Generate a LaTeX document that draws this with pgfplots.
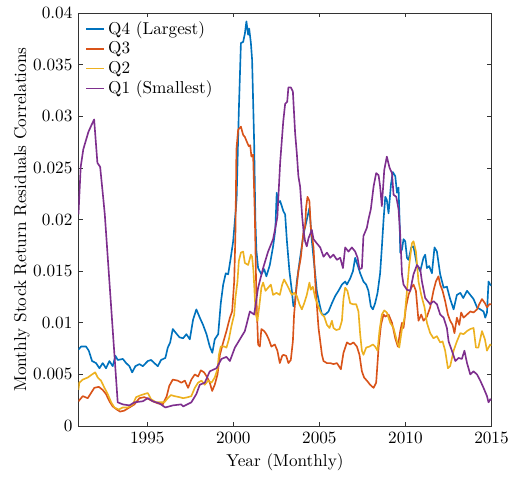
\documentclass[border=0pt]{standalone}
\usepackage{pgfplots}
\pgfplotsset{compat=1.18}
\usetikzlibrary{calc}
\definecolor{mblue}{rgb}{0,0.447,0.741}
\definecolor{morange}{rgb}{0.85,0.325,0.098}
\definecolor{myellow}{rgb}{0.929,0.694,0.125}
\definecolor{mpurple}{rgb}{0.494,0.184,0.556}
\begin{document}
\begin{tikzpicture}
\begin{axis}[
  scale only axis,
  width=240pt, height=240pt,
  xmin=1991, xmax=2015, ymin=0, ymax=0.04,
  xtick={1995,2000,2005,2010,2015},
  ytick={0,0.005,0.01,0.015,0.02,0.025,0.03,0.035,0.04},
  yticklabels={0,0.005,0.01,0.015,0.02,0.025,0.03,0.035,0.04},
  x tick label style={/pgf/number format/1000 sep={}},
  scaled y ticks=false,
  tick align=inside,
  major tick length=2.5pt,
  axis line style={draw=black!80},
  every tick/.style={draw=black!80},
  xlabel={Year (Monthly)},
  ylabel={Monthly Stock Return Residuals Correlations},
  xlabel style={at={(axis description cs:0.5,-0.087)}, anchor=center},
  ylabel style={at={(axis description cs:-0.137,0.5)}, anchor=center},
  legend style={at={(0.012,0.993)}, anchor=north west, draw=none, fill=none,
    row sep=-1.2pt, inner sep=1pt, font=\normalsize},
  legend cell align=left,
  legend image code/.code={\draw[#1] (0cm,0cm) -- (0.36cm,0cm);},
  every axis plot/.append style={line width=0.95pt, line join=round},
]
% Q4 (Largest)
\addplot[color=mblue] coordinates {
(1991.00,0.0074)(1991.15,0.0077)(1991.44,0.0077)(1991.60,0.0073)(1991.79,0.0063)(1992.02,0.0061)(1992.22,0.0056)(1992.41,0.0061)(1992.60,0.0056)(1992.80,0.0063)(1992.99,0.0058)(1993.15,0.0068)(1993.28,0.0064)(1993.58,0.0065)(1993.77,0.0061)(1993.96,0.0058)(1994.12,0.0052)(1994.31,0.0058)(1994.54,0.0060)(1994.74,0.0058)(1995.03,0.0063)(1995.22,0.0064)(1995.41,0.0061)(1995.61,0.0058)(1995.80,0.0064)(1996.05,0.0066)(1996.19,0.0076)(1996.33,0.0081)(1996.48,0.0094)(1996.67,0.0090)(1996.87,0.0086)(1997.08,0.0085)(1997.27,0.0089)(1997.47,0.0084)(1997.66,0.0103)(1997.85,0.0113)(1998.05,0.0105)(1998.24,0.0098)(1998.44,0.0089)(1998.63,0.0077)(1998.78,0.0071)(1998.92,0.0084)(1999.12,0.0089)(1999.27,0.0119)(1999.41,0.0137)(1999.56,0.0148)(1999.70,0.0147)(1999.85,0.0163)(1999.99,0.0179)(2000.12,0.0205)(2000.19,0.0220)(2000.32,0.0306)(2000.44,0.0371)(2000.57,0.0372)(2000.67,0.0380)(2000.76,0.0392)(2000.86,0.0379)(2000.92,0.0385)(2001.02,0.0371)(2001.09,0.0355)(2001.21,0.0274)(2001.28,0.0200)(2001.34,0.0170)(2001.44,0.0153)(2001.63,0.0147)(2001.79,0.0152)(2001.92,0.0145)(2002.12,0.0156)(2002.31,0.0174)(2002.44,0.0190)(2002.52,0.0226)(2002.60,0.0216)(2002.72,0.0218)(2002.91,0.0208)(2003.01,0.0205)(2003.11,0.0180)(2003.26,0.0150)(2003.40,0.0131)(2003.49,0.0116)(2003.59,0.0121)(2003.69,0.0140)(2003.88,0.0163)(2004.08,0.0186)(2004.27,0.0200)(2004.42,0.0211)(2004.56,0.0180)(2004.66,0.0163)(2004.76,0.0147)(2004.85,0.0131)(2005.01,0.0118)(2005.15,0.0108)(2005.34,0.0108)(2005.53,0.0111)(2005.73,0.0119)(2005.92,0.0126)(2006.11,0.0131)(2006.31,0.0137)(2006.50,0.0140)(2006.60,0.0137)(2006.79,0.0143)(2006.95,0.0150)(2007.08,0.0163)(2007.22,0.0156)(2007.37,0.0148)(2007.56,0.0140)(2007.72,0.0137)(2007.85,0.0131)(2007.99,0.0116)(2008.11,0.0113)(2008.24,0.0119)(2008.38,0.0129)(2008.53,0.0148)(2008.63,0.0173)(2008.73,0.0200)(2008.83,0.0222)(2008.92,0.0219)(2009.02,0.0206)(2009.16,0.0234)(2009.27,0.0246)(2009.41,0.0242)(2009.51,0.0226)(2009.60,0.0231)(2009.66,0.0200)(2009.70,0.0168)(2009.80,0.0171)(2009.89,0.0181)(2009.99,0.0179)(2010.09,0.0163)(2010.18,0.0161)(2010.34,0.0173)(2010.47,0.0174)(2010.67,0.0156)(2010.86,0.0150)(2011.05,0.0163)(2011.15,0.0166)(2011.25,0.0153)(2011.38,0.0155)(2011.54,0.0148)(2011.69,0.0173)(2011.83,0.0169)(2012.02,0.0147)(2012.22,0.0134)(2012.41,0.0135)(2012.60,0.0123)(2012.80,0.0113)(2012.99,0.0127)(2013.19,0.0129)(2013.36,0.0124)(2013.58,0.0131)(2013.77,0.0127)(2013.96,0.0123)(2014.16,0.0115)(2014.35,0.0113)(2014.54,0.0111)(2014.64,0.0105)(2014.74,0.0110)(2014.83,0.0140)(2014.93,0.0137)(2015.00,0.0136)
};
\addlegendentry{Q4 (Largest)}
% Q3
\addplot[color=morange] coordinates {
(1991.00,0.0024)(1991.25,0.0029)(1991.54,0.0027)(1991.73,0.0032)(1991.92,0.0037)(1992.18,0.0038)(1992.41,0.0035)(1992.60,0.0031)(1992.80,0.0024)(1992.99,0.0019)(1993.23,0.0016)(1993.42,0.0014)(1993.67,0.0015)(1993.96,0.0018)(1994.25,0.0021)(1994.54,0.0027)(1994.83,0.0028)(1995.09,0.0026)(1995.32,0.0024)(1995.61,0.0022)(1995.90,0.0021)(1996.13,0.0029)(1996.28,0.0039)(1996.48,0.0045)(1996.77,0.0044)(1996.98,0.0042)(1997.18,0.0044)(1997.37,0.0037)(1997.56,0.0045)(1997.76,0.0050)(1997.95,0.0048)(1998.11,0.0054)(1998.30,0.0052)(1998.49,0.0047)(1998.63,0.0042)(1998.77,0.0034)(1998.92,0.0040)(1999.08,0.0050)(1999.22,0.0069)(1999.41,0.0081)(1999.60,0.0092)(1999.80,0.0105)(1999.93,0.0111)(2000.05,0.0140)(2000.12,0.0185)(2000.18,0.0268)(2000.28,0.0287)(2000.44,0.0290)(2000.57,0.0282)(2000.67,0.0280)(2000.82,0.0274)(2000.90,0.0271)(2000.98,0.0272)(2001.05,0.0261)(2001.15,0.0263)(2001.25,0.0203)(2001.34,0.0124)(2001.44,0.0079)(2001.54,0.0077)(2001.63,0.0094)(2001.79,0.0092)(2001.92,0.0089)(2002.06,0.0084)(2002.21,0.0077)(2002.41,0.0079)(2002.56,0.0073)(2002.70,0.0061)(2002.84,0.0068)(2002.91,0.0069)(2003.07,0.0068)(2003.20,0.0061)(2003.34,0.0064)(2003.46,0.0082)(2003.53,0.0108)(2003.65,0.0131)(2003.78,0.0150)(2003.92,0.0163)(2004.08,0.0189)(2004.17,0.0193)(2004.23,0.0212)(2004.31,0.0222)(2004.42,0.0218)(2004.50,0.0193)(2004.66,0.0173)(2004.76,0.0140)(2004.85,0.0118)(2004.95,0.0095)(2005.05,0.0082)(2005.15,0.0069)(2005.24,0.0063)(2005.44,0.0061)(2005.63,0.0061)(2005.82,0.0060)(2006.02,0.0061)(2006.25,0.0055)(2006.40,0.0071)(2006.60,0.0081)(2006.79,0.0079)(2006.98,0.0081)(2007.18,0.0077)(2007.33,0.0069)(2007.47,0.0053)(2007.60,0.0047)(2007.76,0.0044)(2007.95,0.0040)(2008.15,0.0037)(2008.30,0.0042)(2008.44,0.0076)(2008.58,0.0098)(2008.73,0.0108)(2008.83,0.0106)(2009.02,0.0108)(2009.22,0.0100)(2009.41,0.0085)(2009.56,0.0077)(2009.70,0.0092)(2009.80,0.0100)(2009.89,0.0095)(2010.03,0.0115)(2010.18,0.0127)(2010.34,0.0134)(2010.47,0.0137)(2010.61,0.0131)(2010.76,0.0102)(2010.92,0.0108)(2011.05,0.0102)(2011.25,0.0106)(2011.44,0.0115)(2011.63,0.0131)(2011.77,0.0140)(2011.92,0.0145)(2012.02,0.0137)(2012.16,0.0131)(2012.31,0.0121)(2012.47,0.0108)(2012.60,0.0102)(2012.74,0.0098)(2012.85,0.0090)(2012.99,0.0105)(2013.13,0.0098)(2013.24,0.0110)(2013.38,0.0105)(2013.58,0.0108)(2013.77,0.0111)(2013.96,0.0110)(2014.16,0.0113)(2014.29,0.0118)(2014.45,0.0123)(2014.62,0.0119)(2014.74,0.0115)(2014.88,0.0118)(2015.00,0.0118)
};
\addlegendentry{Q3}
% Q2
\addplot[color=myellow] coordinates {
(1991.00,0.0035)(1991.05,0.0042)(1991.25,0.0045)(1991.54,0.0047)(1991.79,0.0050)(1991.97,0.0052)(1992.12,0.0047)(1992.31,0.0044)(1992.51,0.0037)(1992.70,0.0031)(1992.90,0.0023)(1993.09,0.0018)(1993.34,0.0016)(1993.58,0.0018)(1993.87,0.0018)(1994.16,0.0021)(1994.35,0.0028)(1994.64,0.0030)(1994.83,0.0031)(1995.03,0.0032)(1995.22,0.0026)(1995.51,0.0023)(1995.80,0.0023)(1995.99,0.0023)(1996.19,0.0027)(1996.38,0.0030)(1996.58,0.0029)(1996.87,0.0028)(1997.08,0.0027)(1997.37,0.0028)(1997.56,0.0029)(1997.76,0.0037)(1997.95,0.0042)(1998.15,0.0044)(1998.34,0.0040)(1998.53,0.0044)(1998.73,0.0042)(1998.92,0.0047)(1999.08,0.0055)(1999.16,0.0069)(1999.27,0.0077)(1999.47,0.0077)(1999.60,0.0076)(1999.74,0.0084)(1999.89,0.0097)(2000.05,0.0108)(2000.12,0.0124)(2000.24,0.0140)(2000.32,0.0160)(2000.44,0.0168)(2000.57,0.0169)(2000.67,0.0158)(2000.86,0.0156)(2001.02,0.0166)(2001.09,0.0164)(2001.17,0.0150)(2001.25,0.0124)(2001.31,0.0108)(2001.40,0.0102)(2001.50,0.0115)(2001.63,0.0134)(2001.73,0.0139)(2001.87,0.0131)(2002.02,0.0134)(2002.18,0.0137)(2002.31,0.0127)(2002.51,0.0129)(2002.70,0.0127)(2002.84,0.0137)(2002.95,0.0142)(2003.11,0.0137)(2003.26,0.0132)(2003.40,0.0127)(2003.53,0.0129)(2003.69,0.0126)(2003.84,0.0118)(2003.98,0.0113)(2004.12,0.0119)(2004.27,0.0127)(2004.42,0.0139)(2004.50,0.0132)(2004.62,0.0135)(2004.76,0.0124)(2004.89,0.0118)(2005.05,0.0111)(2005.15,0.0108)(2005.28,0.0106)(2005.44,0.0098)(2005.59,0.0095)(2005.73,0.0102)(2005.82,0.0095)(2005.98,0.0093)(2006.17,0.0094)(2006.31,0.0102)(2006.40,0.0123)(2006.50,0.0134)(2006.63,0.0131)(2006.79,0.0119)(2006.95,0.0118)(2007.14,0.0118)(2007.27,0.0111)(2007.37,0.0089)(2007.47,0.0073)(2007.56,0.0069)(2007.72,0.0076)(2007.91,0.0077)(2008.11,0.0079)(2008.24,0.0077)(2008.38,0.0073)(2008.49,0.0092)(2008.63,0.0108)(2008.77,0.0112)(2008.92,0.0110)(2009.12,0.0100)(2009.31,0.0095)(2009.51,0.0082)(2009.64,0.0076)(2009.80,0.0094)(2009.95,0.0105)(2010.09,0.0131)(2010.22,0.0156)(2010.38,0.0177)(2010.47,0.0179)(2010.61,0.0169)(2010.76,0.0140)(2010.92,0.0127)(2011.11,0.0115)(2011.25,0.0100)(2011.44,0.0090)(2011.63,0.0085)(2011.83,0.0087)(2012.02,0.0081)(2012.16,0.0082)(2012.31,0.0073)(2012.47,0.0056)(2012.60,0.0058)(2012.80,0.0073)(2012.99,0.0082)(2013.19,0.0090)(2013.38,0.0089)(2013.58,0.0092)(2013.77,0.0094)(2013.96,0.0095)(2014.10,0.0076)(2014.24,0.0076)(2014.45,0.0092)(2014.62,0.0084)(2014.74,0.0073)(2014.83,0.0076)(2014.93,0.0079)(2015.00,0.0078)
};
\addlegendentry{Q2}
% Q1 (Smallest)
\addplot[color=mpurple] coordinates {
(1991.00,0.0205)(1991.13,0.0251)(1991.28,0.0268)(1991.58,0.0285)(1991.77,0.0292)(1991.91,0.0297)(1992.10,0.0255)(1992.26,0.0251)(1992.45,0.0219)(1992.53,0.0205)(1993.28,0.0023)(1993.58,0.0021)(1993.96,0.0020)(1994.25,0.0023)(1994.74,0.0024)(1995.03,0.0027)(1995.32,0.0024)(1995.70,0.0022)(1996.05,0.0018)(1996.48,0.0020)(1996.97,0.0021)(1997.08,0.0019)(1997.56,0.0023)(1997.85,0.0031)(1998.05,0.0040)(1998.34,0.0042)(1998.63,0.0053)(1999.02,0.0056)(1999.31,0.0065)(1999.60,0.0067)(1999.80,0.0063)(2000.09,0.0076)(2000.38,0.0084)(2000.67,0.0092)(2000.96,0.0111)(2001.21,0.0108)(2001.44,0.0134)(2001.73,0.0153)(2002.02,0.0169)(2002.31,0.0181)(2002.51,0.0198)(2002.56,0.0203)(2002.72,0.0255)(2002.90,0.0295)(2003.01,0.0312)(2003.13,0.0314)(2003.20,0.0328)(2003.34,0.0328)(2003.46,0.0324)(2003.59,0.0284)(2003.69,0.0264)(2003.78,0.0242)(2003.88,0.0232)(2004.00,0.0203)(2004.08,0.0189)(2004.17,0.0179)(2004.27,0.0174)(2004.37,0.0182)(2004.56,0.0190)(2004.66,0.0181)(2004.85,0.0177)(2005.05,0.0173)(2005.24,0.0164)(2005.44,0.0168)(2005.63,0.0163)(2005.82,0.0166)(2006.02,0.0161)(2006.21,0.0163)(2006.37,0.0153)(2006.50,0.0173)(2006.69,0.0169)(2006.89,0.0173)(2007.08,0.0169)(2007.22,0.0163)(2007.33,0.0152)(2007.47,0.0153)(2007.56,0.0184)(2007.76,0.0192)(2007.85,0.0200)(2007.99,0.0210)(2008.15,0.0232)(2008.30,0.0245)(2008.44,0.0243)(2008.53,0.0232)(2008.63,0.0213)(2008.77,0.0248)(2008.92,0.0261)(2009.08,0.0250)(2009.22,0.0245)(2009.31,0.0224)(2009.47,0.0222)(2009.60,0.0210)(2009.70,0.0185)(2009.80,0.0147)(2009.89,0.0137)(2010.09,0.0132)(2010.28,0.0131)(2010.47,0.0147)(2010.67,0.0156)(2010.86,0.0152)(2010.96,0.0140)(2011.15,0.0124)(2011.44,0.0118)(2011.63,0.0121)(2011.83,0.0118)(2012.02,0.0108)(2012.22,0.0105)(2012.41,0.0095)(2012.51,0.0082)(2012.70,0.0073)(2012.90,0.0063)(2013.09,0.0066)(2013.28,0.0065)(2013.43,0.0073)(2013.58,0.0061)(2013.77,0.0050)(2013.96,0.0053)(2014.16,0.0050)(2014.35,0.0044)(2014.54,0.0037)(2014.74,0.0029)(2014.83,0.0023)(2014.93,0.0026)(2015.00,0.0025)
};
\addlegendentry{Q1 (Smallest)}
\end{axis}
\pgfresetboundingbox
\useasboundingbox ($(current axis.south west)+(-45.6pt,-29.8pt)$) rectangle ($(current axis.north east)+(10.2pt,7.6pt)$);
\end{tikzpicture}
\end{document}
